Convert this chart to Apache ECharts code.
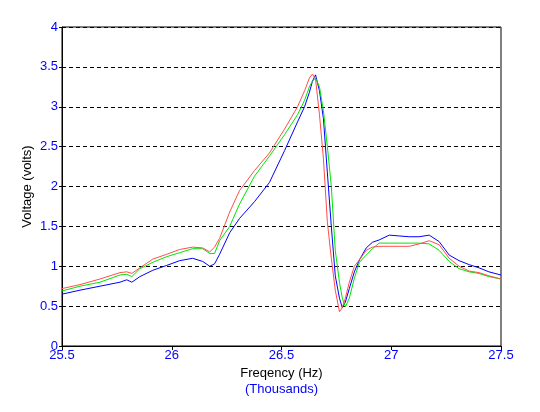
<!DOCTYPE html>
<html>
<head>
<meta charset="utf-8">
<script src="https://cdn.jsdelivr.net/npm/echarts@6/dist/echarts.min.js"></script>
<style>html,body{margin:0;padding:0;background:#fff;}#c{width:540px;height:412px;}</style>
</head>
<body>
<div id="c"></div>
<script>
// Frequency (thousands of Hz)
var freq = [25.5,25.582,25.673,25.764,25.795,25.818,25.855,25.914,25.977,26.036,26.095,26.141,26.173,26.195,26.218,26.264,26.309,26.377,26.445,26.514,26.573,26.605,26.627,26.641,26.655,26.673,26.691,26.709,26.727,26.745,26.764,26.777,26.791,26.809,26.832,26.855,26.886,26.914,26.945,26.991,27.036,27.082,27.127,27.173,27.218,27.264,27.309,27.355,27.4,27.445,27.5];
var blueV = [0.65,0.70,0.75,0.80,0.83,0.80,0.87,0.95,1.01,1.07,1.10,1.06,1.00,1.03,1.15,1.42,1.60,1.81,2.05,2.45,2.81,3.00,3.18,3.32,3.40,3.20,2.85,2.17,1.50,0.88,0.60,0.48,0.55,0.72,0.93,1.08,1.23,1.30,1.33,1.39,1.38,1.37,1.37,1.39,1.31,1.14,1.07,1.02,0.98,0.93,0.89];
var redV = [0.72,0.77,0.84,0.92,0.93,0.91,0.98,1.09,1.15,1.21,1.24,1.23,1.18,1.24,1.35,1.68,1.95,2.20,2.42,2.72,3.00,3.20,3.36,3.41,3.35,2.90,2.35,1.55,1.10,0.70,0.43,0.48,0.60,0.80,1.00,1.08,1.20,1.24,1.25,1.25,1.25,1.25,1.28,1.32,1.27,1.10,1.00,0.94,0.92,0.88,0.84];
var greenV = [0.69,0.75,0.80,0.89,0.90,0.87,0.97,1.05,1.12,1.17,1.22,1.22,1.16,1.16,1.32,1.50,1.78,2.13,2.38,2.65,2.90,3.08,3.25,3.32,3.36,3.25,2.95,2.50,2.00,1.20,0.80,0.60,0.49,0.60,0.85,1.05,1.14,1.22,1.29,1.29,1.29,1.29,1.29,1.28,1.20,1.06,0.97,0.93,0.91,0.87,0.84];
var xTitle = 'Freqency (Hz)';
var xSub = '(Thousands)';
var yTitle = 'Voltage (volts)';

function pairs(v){ return freq.map(function(f,i){ return [f, v[i]]; }); }
var font = 'Liberation Sans, Arial, sans-serif';
var chart = echarts.init(document.getElementById('c'), null, {renderer:'canvas'});
chart.setOption({
  animation: false,
  backgroundColor: '#fff',
  grid: {left: 62, right: 39, top: 27, bottom: 66, show: true, borderColor: '#000', borderWidth: 1, backgroundColor: 'transparent'},
  xAxis: {
    type: 'value', min: 25.5, max: 27.5, interval: 0.5,
    axisLine: {show: true, onZero: false, lineStyle: {color: '#000', width: 1}},
    axisTick: {show: true, inside: false, length: 4, lineStyle: {color: '#000'}},
    axisLabel: {color: '#0000ff', fontFamily: font, fontSize: 13, margin: 3,
      formatter: function(v){ return String(Math.round(v*10)/10); }},
    splitLine: {show: false},
    name: '{a|' + xTitle + '}\n{b|' + xSub + '}',
    nameLocation: 'middle', nameGap: 19,
    nameTextStyle: {rich: {
      a: {color: '#000', fontFamily: font, fontSize: 13, lineHeight: 16},
      b: {color: '#0000ff', fontFamily: font, fontSize: 13, lineHeight: 16}
    }}
  },
  yAxis: {
    type: 'value', min: 0, max: 4, interval: 0.5,
    axisLine: {show: true, onZero: false, lineStyle: {color: '#000', width: 1}},
    axisTick: {show: true, length: 3, lineStyle: {color: '#000'}},
    axisLabel: {color: '#0000ff', fontFamily: font, fontSize: 13, margin: 4},
    splitLine: {show: true, lineStyle: {color: '#000', type: [4, 3], width: 1}},
    name: yTitle, nameLocation: 'middle', nameGap: 28, nameRotate: 90, nameMoveOverlap: false,
    nameTextStyle: {color: '#000', fontFamily: font, fontSize: 13}
  },
  series: [
    {type: 'line', data: pairs(blueV), showSymbol: false, smooth: false, lineStyle: {color: '#0000ff', width: 1}, itemStyle: {color: '#0000ff'}},
    {type: 'line', data: pairs(greenV), showSymbol: false, smooth: false, lineStyle: {color: '#00e600', width: 1}, itemStyle: {color: '#00e600'}},
    {type: 'line', data: pairs(redV), showSymbol: false, smooth: false, lineStyle: {color: '#ff4d4d', width: 1}, itemStyle: {color: '#ff4d4d'}}
  ]
});
</script>
</body>
</html>
